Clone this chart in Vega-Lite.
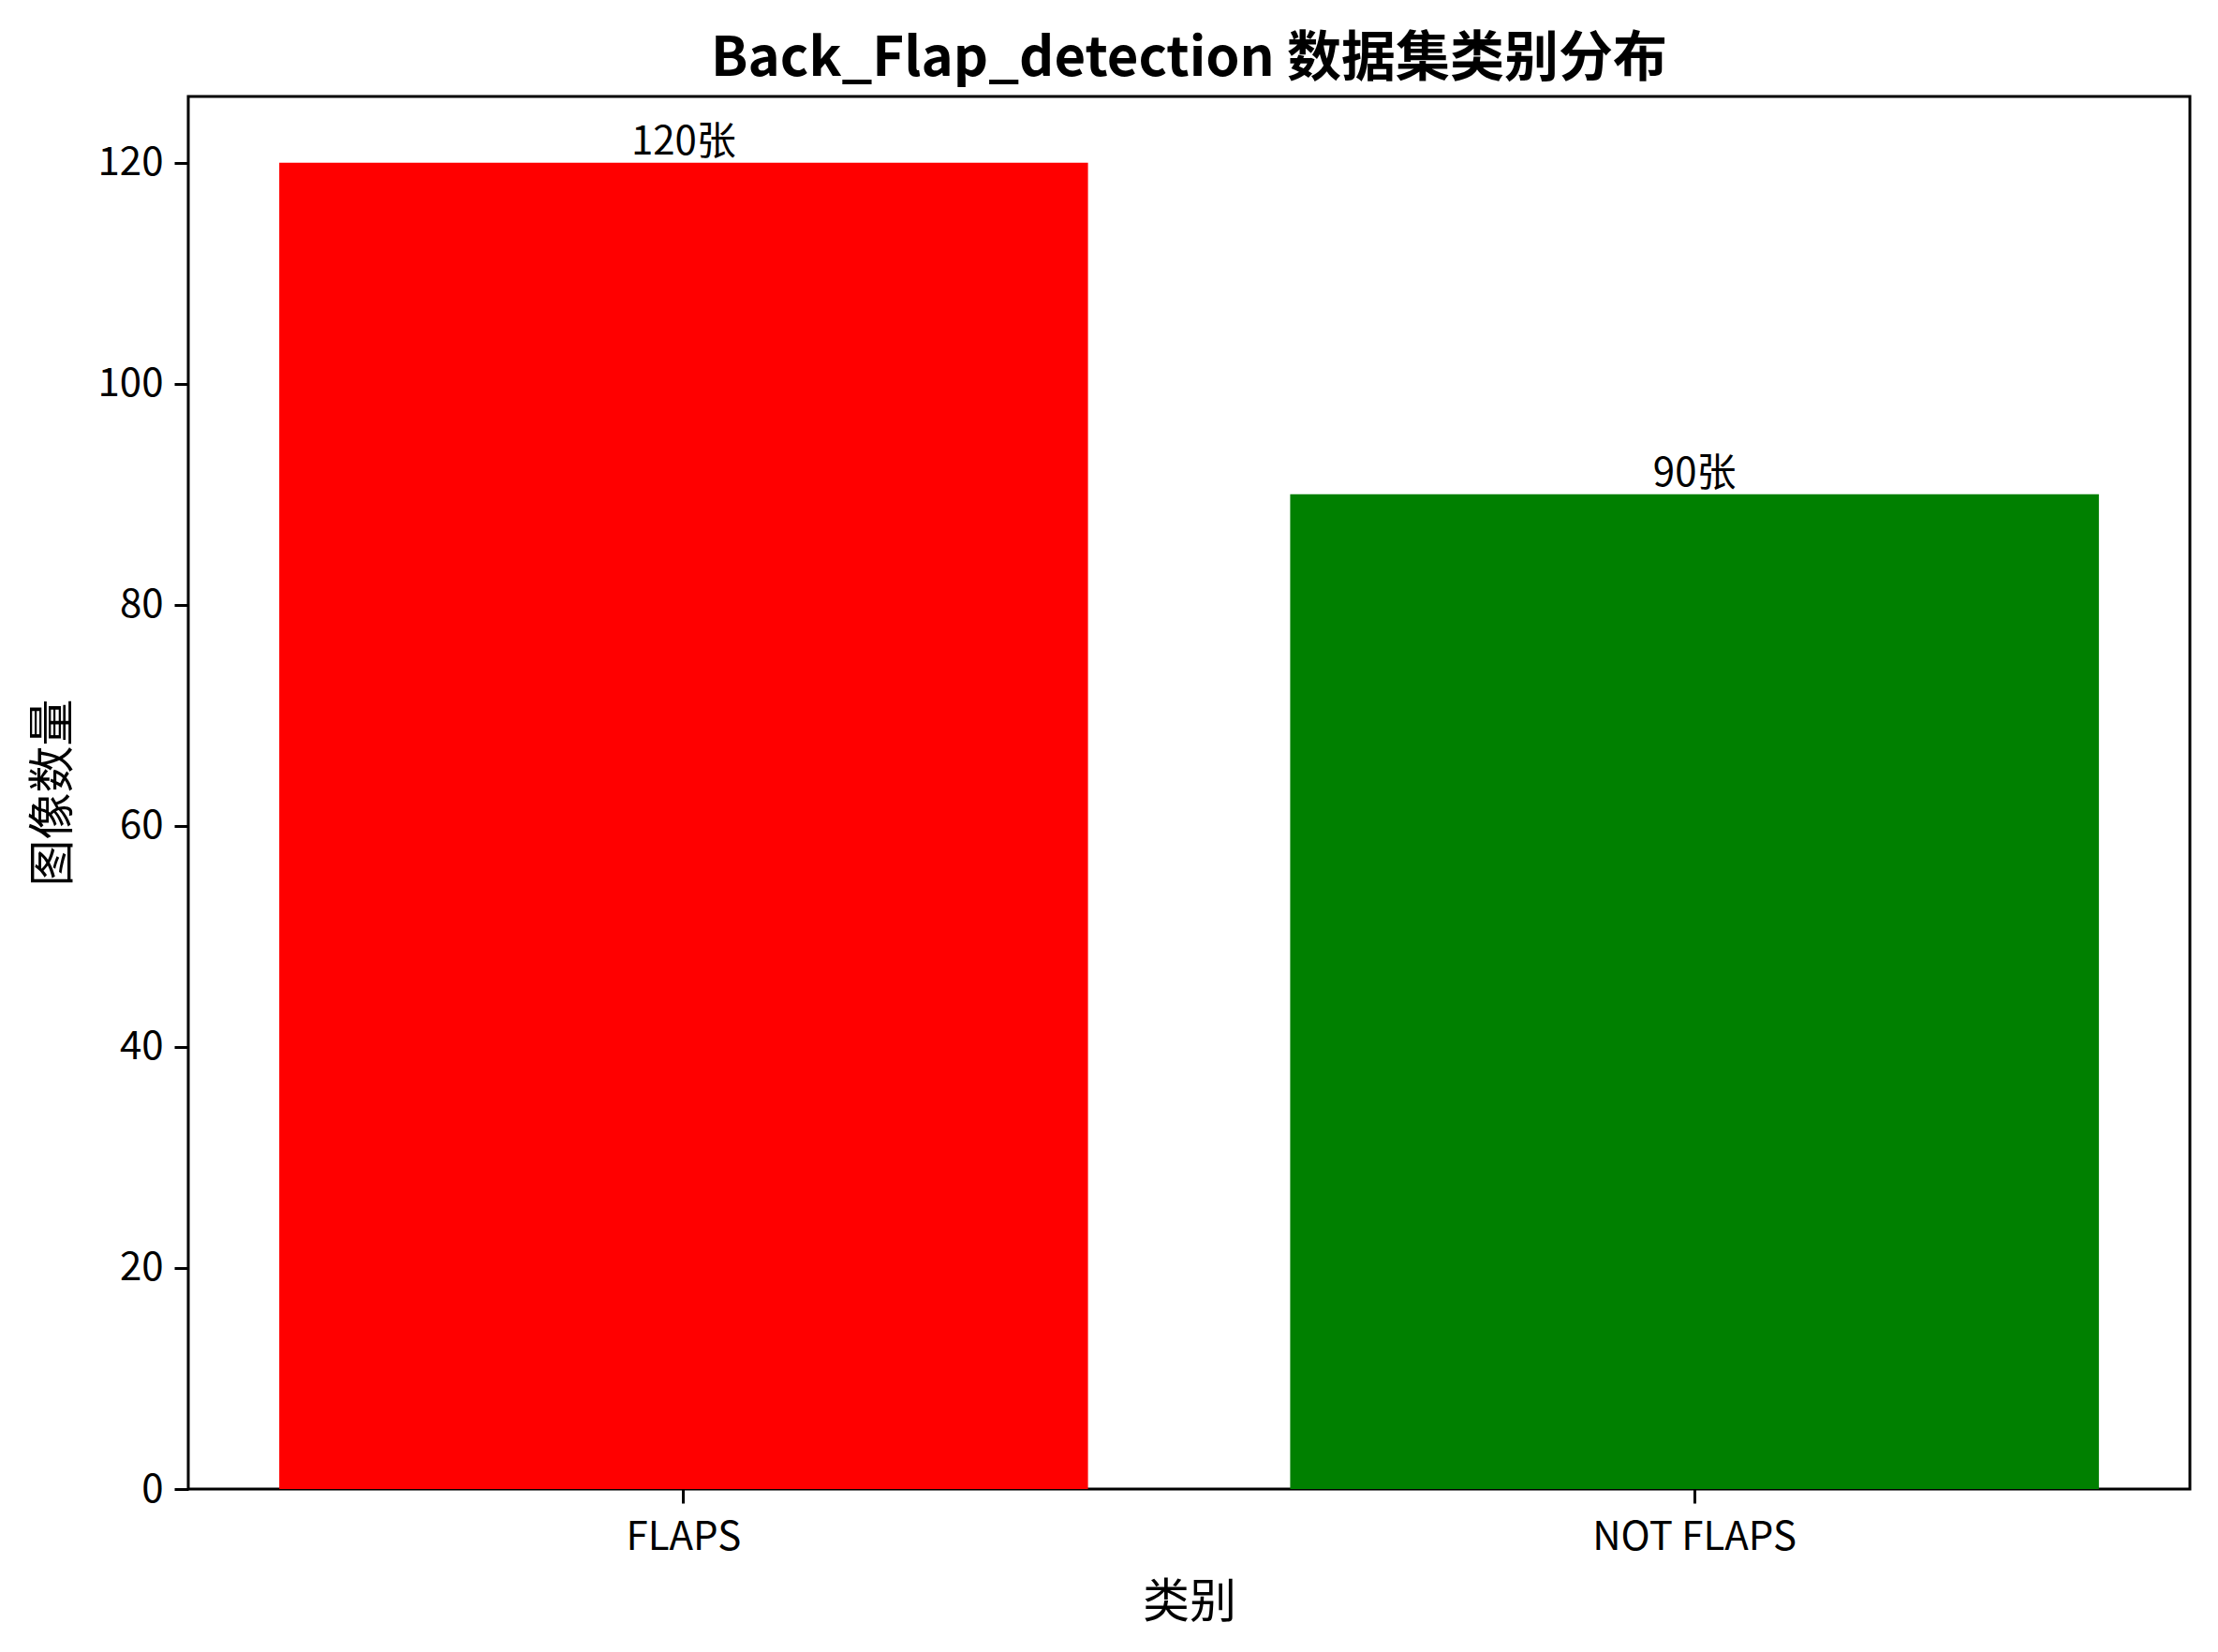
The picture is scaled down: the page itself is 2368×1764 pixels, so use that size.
{
  "$schema": "https://vega.github.io/schema/vega-lite/v6.json",
  "autosize": {"type": "none"},
  "padding": {"left": 201, "top": 103, "right": 30, "bottom": 174},
  "width": 2137,
  "height": 1487,
  "background": "white",
  "title": {
    "text": "Back_Flap_detection 数据集类别分布",
    "font": "Noto Sans CJK SC",
    "fontSize": 58,
    "fontWeight": "bold",
    "color": "black",
    "anchor": "middle",
    "baseline": "alphabetic",
    "offset": -36
  },
  "data": {
    "values": [
      {"category": "FLAPS", "count": 120, "label": "120张"},
      {"category": "NOT FLAPS", "count": 90, "label": "90张"}
    ]
  },
  "encoding": {
    "x": {
      "field": "category",
      "type": "nominal",
      "sort": null,
      "title": "类别",
      "scale": {"paddingInner": 0.2, "paddingOuter": 0.09},
      "axis": {
        "labelAngle": 0,
        "labelLimit": 0,
        "labelFont": "Noto Sans CJK SC",
        "labelFontSize": 42,
        "labelColor": "black",
        "labelPadding": 16,
        "tickSize": 15,
        "tickWidth": 3,
        "tickColor": "black",
        "domain": false,
        "titleFont": "Noto Sans CJK SC",
        "titleFontSize": 50,
        "titleFontWeight": "normal",
        "titleColor": "black",
        "titlePadding": 24
      }
    },
    "y": {
      "field": "count",
      "type": "quantitative",
      "title": "图像数量",
      "scale": {"domain": [0, 126], "nice": false},
      "axis": {
        "values": [0, 20, 40, 60, 80, 100, 120],
        "grid": false,
        "domain": false,
        "labelFont": "Noto Sans CJK SC",
        "labelFontSize": 42,
        "labelColor": "black",
        "labelPadding": 12,
        "tickSize": 15,
        "tickWidth": 3,
        "tickColor": "black",
        "titleFont": "Noto Sans CJK SC",
        "titleFontSize": 50,
        "titleFontWeight": "normal",
        "titleColor": "black",
        "titleX": -144,
        "titleY": 743,
        "titleBaseline": "middle"
      }
    }
  },
  "layer": [
    {
      "mark": {"type": "bar"},
      "encoding": {
        "color": {
          "field": "category",
          "type": "nominal",
          "scale": {"domain": ["FLAPS", "NOT FLAPS"], "range": ["#ff0000", "#008000"]},
          "legend": null
        }
      }
    },
    {
      "mark": {
        "type": "text",
        "baseline": "bottom",
        "align": "center",
        "font": "Noto Sans CJK SC",
        "fontSize": 42,
        "color": "black"
      },
      "encoding": {
        "text": {"field": "label", "type": "nominal"}
      }
    }
  ],
  "config": {
    "view": {"stroke": "black", "strokeWidth": 3}
  }
}
